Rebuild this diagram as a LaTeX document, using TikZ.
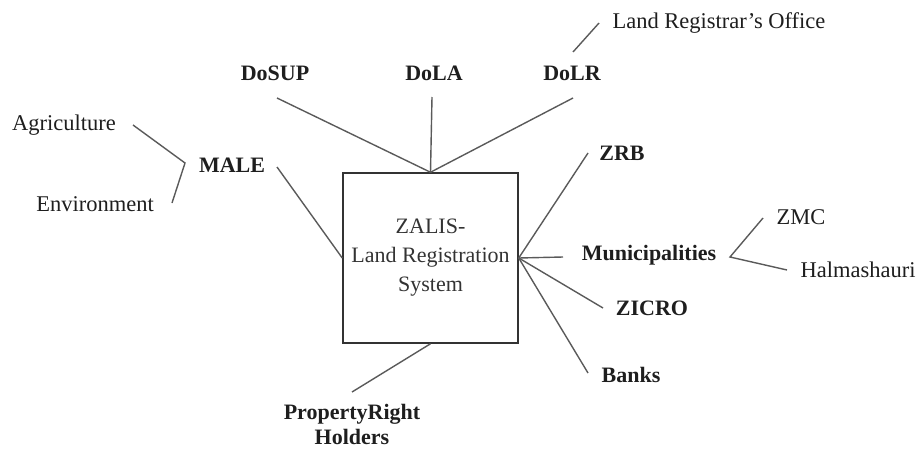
\documentclass[tikz,border=0pt]{standalone}
\usepackage{fontspec}
\setmainfont{Liberation Serif}
\usetikzlibrary{calc}
\definecolor{linec}{HTML}{5A5A5A}
\definecolor{textc}{HTML}{1E1E1E}
\tikzset{
  conn/.style={draw=linec, line width=1.4pt},
  lab/.style={inner sep=0pt, text=textc, font=\fontsize{22.5}{26}\selectfont},
  blab/.style={inner sep=0pt, text=textc, font=\fontsize{22}{25}\selectfont\bfseries, align=center},
  mainbox/.style={draw=black!80, line width=1.5pt, minimum width=175pt, minimum height=170pt,
    inner sep=0pt, align=center, text=black!80, font=\fontsize{22}{29}\selectfont}
}
\begin{document}
\begin{tikzpicture}[x=1pt,y=-1pt]
\useasboundingbox (0,0) rectangle (920,450);
\node[mainbox] (box) at (430.5,258) {ZALIS-\\Land Registration\\System};
% labels
\node[blab] (dosup) at (275,73) {DoSUP};
\node[blab] (dola) at (434,73) {DoLA};
\node[blab] (dolr) at (572,73) {DoLR};
\node[lab] (lro) at (719,23) {Land Registrar's Office};
\node[blab] (male) at (232,165) {MALE};
\node[lab] (agri) at (64,125) {Agriculture};
\node[lab] (env) at (95,204) {Environment};
\node[blab] (zrb) at (622,153) {ZRB};
\node[blab] (muni) at (649,255) {Municipalities};
\node[lab] (zmc) at (801,217) {ZMC};
\node[lab] (halma) at (858,270) {Halmashauri};
\node[blab] (zicro) at (652,308) {ZICRO};
\node[blab] (banks) at (631,375) {Banks};
\node[blab] (prop) at (352,424) {PropertyRight\\Holders};
% connectors
\draw[conn] (box.north) -- ($(dosup)+(2,25)$);
\draw[conn] (box.north) -- ($(dola)+(-2,24)$);
\draw[conn] (box.north) -- ($(dolr)+(1,25)$);
\draw[conn] ($(dolr)+(1,-21)$) -- ($(lro)+(-120,0)$);
\draw[conn] (box.west) -- ($(male)+(45,2)$);
\draw[conn] ($(agri)+(69,0)$) -- ($(male)+(-47,-2)$) -- ($(env)+(77,-1)$);
\draw[conn] (box.east) -- ($(zrb)+(-34,0)$);
\draw[conn] (box.east) -- ($(muni)+(-86,2)$);
\draw[conn] (box.east) -- ($(zicro)+(-49,0)$);
\draw[conn] (box.east) -- ($(banks)+(-43,-2)$);
\draw[conn] ($(zmc)+(-38,1)$) -- ($(muni)+(81,2)$) -- ($(halma)+(-71,0)$);
\draw[conn] (box.south) -- ($(prop)+(0,-32)$);
\end{tikzpicture}
\end{document}
